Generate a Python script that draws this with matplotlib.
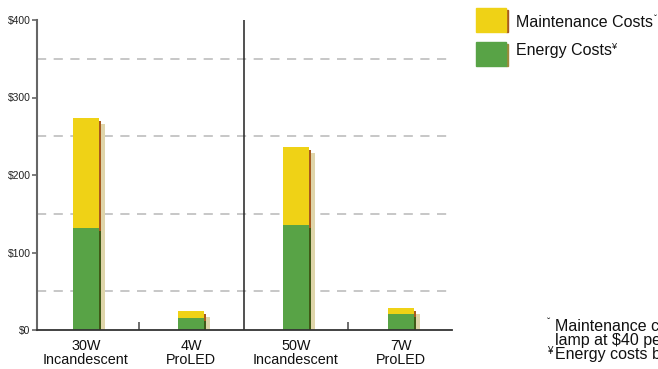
import matplotlib
matplotlib.use("Agg")
import matplotlib.pyplot as plt
from matplotlib.transforms import offset_copy
from matplotlib.patches import Rectangle
import numpy as np

plt.rcParams['font.family'] = ['Liberation Sans', 'DejaVu Sans']

categories = ["30W\nIncandescent", "4W\nProLED", "50W\nIncandescent", "7W\nProLED"]
energy_costs = [132, 16, 136, 21]
maintenance_costs = [141, 9, 100, 8]
y_ticks = [0, 100, 200, 300, 400]
y_tick_labels = ["$0", "$100", "$200", "$300", "$400"]
legend_labels = ["Maintenance Costs", "Energy Costs"]
legend_marks = ["\u02c7", "\u00a5"]
footnote_marks = ["\u02c7", "", "\u00a5"]
footnote_lines = ["Maintenance costs based on replacing the",
                  "lamp at $40 per hour of labor",
                  "Energy costs based on $0.12 per kWh"]

YELLOW = "#EFD216"
GREEN = "#58A346"
YELLOW_DARK = "#A85A1E"
GREEN_DARK = "#3F5A16"
BEIGE = "#DFD5AA"
TXT = "#111111"

W, H = 658, 369
fig = plt.figure(figsize=(W / 100, H / 100), dpi=100)
ax = fig.add_axes([37 / W, 1 - 330 / H, (452 - 37) / W, 310 / H])

x = np.arange(len(categories))
bw = 0.248
energy = np.array(energy_costs)
maint = np.array(maintenance_costs)
total = energy + maint

tr_beige = offset_copy(ax.transData, fig=fig, x=5.6, y=-6, units='dots')
tr_dark = offset_copy(ax.transData, fig=fig, x=2.3, y=-3, units='dots')

ax.bar(x, total, bw, color=BEIGE, transform=tr_beige, zorder=2)
ax.bar(x, maint, bw, bottom=energy, color=YELLOW_DARK, transform=tr_dark, zorder=3)
ax.bar(x, energy, bw, color=GREEN_DARK, transform=tr_dark, zorder=3)
ax.bar(x, energy, bw, color=GREEN, zorder=4)
ax.bar(x, maint, bw, bottom=energy, color=YELLOW, zorder=4)

ax.set_xlim(-0.467, 3.486)
ax.set_ylim(0, 400)

ax.set_yticks(y_ticks)
ax.set_yticklabels(y_tick_labels, fontsize=7.5, color="#222222")
ax.set_yticks([50, 150, 250, 350], minor=True)
ax.tick_params(axis='y', which='major', direction='out', length=3.5, width=1.2, color="#666666", pad=1)
ax.tick_params(axis='y', which='minor', length=0)
ax.grid(axis='y', which='minor', color="#BDBDBD", linewidth=1.2, linestyle=(0, (5.5, 4.5)), zorder=1)

ax.set_xticks(x)
ax.set_xticklabels(categories, fontsize=10.4, linespacing=1.02, color=TXT)
ax.tick_params(axis='x', which='major', length=0, pad=6.5)
ax.set_xticks([0.5, 2.5], minor=True)
ax.tick_params(axis='x', which='minor', direction='in', length=6, width=1.2, color="#555555")

for s in ['top', 'right']:
    ax.spines[s].set_visible(False)
ax.spines['left'].set_color("#666666")
ax.spines['left'].set_linewidth(1.5)
ax.spines['bottom'].set_color("#333333")
ax.spines['bottom'].set_linewidth(1.3)
ax.spines['bottom'].set_zorder(5)

ax.axvline(1.5, color="#222222", linewidth=1.1, zorder=5)

renderer = fig.canvas.get_renderer()

# legend (manual)
sq_w, sq_h = 29.5 / W, 23.5 / H
leg_colors = [(YELLOW, YELLOW_DARK), (GREEN, "#9E8A3A")]
leg_tops = [8, 42]
leg_baselines = [27, 55]
for (c, cd), top, base, lab, mk in zip(leg_colors, leg_tops, leg_baselines, legend_labels, legend_marks):
    x0 = 476 / W
    y0 = 1 - (top + 23.5) / H
    fig.patches.append(Rectangle((x0 + sq_w, y0), 2 / W, sq_h - 2 / H, transform=fig.transFigure,
                                 color=cd, zorder=2))
    fig.patches.append(Rectangle((x0, y0), sq_w, sq_h, transform=fig.transFigure,
                                 color=c, zorder=3))
    t = fig.text(516 / W, 1 - base / H, lab, fontsize=11.5, va='baseline', ha='left', color=TXT)
    bb = t.get_window_extent(renderer)
    fig.text(bb.x1 / W + 0.5 / W, 1 - (base - 6) / H, mk, fontsize=6.5, va='baseline', ha='left', color=TXT)

fn_baselines = [331, 345, 359]
for mk, line, base in zip(footnote_marks, footnote_lines, fn_baselines):
    if mk:
        fig.text(547 / W, 1 - (base - 5) / H, mk, fontsize=7, va='baseline', ha='left', color=TXT)
    fig.text(555 / W, 1 - base / H, line, fontsize=11.5, va='baseline', ha='left', color=TXT)

fig.savefig("out.png", dpi=100)
